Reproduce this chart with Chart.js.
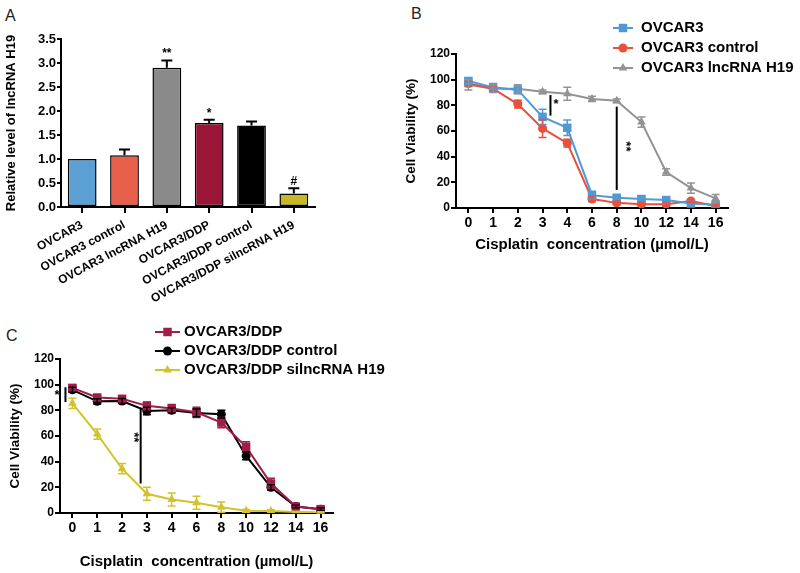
<!DOCTYPE html>
<html>
<head>
<meta charset="utf-8">
<script src="https://cdn.jsdelivr.net/npm/chart.js@4"></script>
<style>
  body { margin: 0; background: #fff; width: 800px; height: 573px; position: relative; overflow: hidden;
         font-family: "Liberation Sans", Arial, sans-serif; }
  canvas { position: absolute; }
  .tag { position: absolute; font-size: 16px; color: #222; }
</style>
</head>
<body>
<div class="tag" style="left:5px;top:7px">A</div>
<div class="tag" style="left:411px;top:5px">B</div>
<div class="tag" style="left:6px;top:327px">C</div>
<canvas id="chartA" style="left:0;top:0" width="330" height="315"></canvas>
<canvas id="chartC" style="left:0;top:290px" width="400" height="283"></canvas>
<canvas id="chartB" style="left:390px;top:0" width="410" height="260"></canvas>
<script>
// ---- panel A: relative lncRNA H19 level ----
const labelsA = ['OVCAR3', 'OVCAR3 control', 'OVCAR3 lncRNA H19', 'OVCAR3/DDP', 'OVCAR3/DDP control', 'OVCAR3/DDP silncRNA H19'];
const levelA = [1.0, 1.08, 2.9, 1.75, 1.7, 0.28];
const levelErrA = [0, 0.12, 0.15, 0.07, 0.08, 0.11];
const colorsA = ['#5b9fd3', '#e8604c', '#8a8a8a', '#9a1538', '#000000', '#c8b824'];
const yTicksA = [0, 0.5, 1, 1.5, 2, 2.5, 3, 3.5];
// significance marks above bars (category index, y value, text)
const starsA = [
  { at: 2, v: 3.2, text: '**' },
  { at: 3, v: 1.95, text: '*' },
  { at: 5, v: 0.53, text: '#' }
];

// ---- panel B / C: cisplatin dose response ----
const doses = ['0', '1', '2', '3', '4', '6', '8', '10', '12', '14', '16'];

const ovcar3 = [99, 94, 92, 71, 62.5, 10, 8, 7, 6.2, 3.5, 2.5];
const ovcar3Err = [2, 3, 3, 6, 6, 3, 2, 2, 1.5, 1, 1];
const ovcar3Ctrl = [97, 93, 81, 62, 50.5, 7, 4, 3, 3, 5.5, 1.5];
const ovcar3CtrlErr = [2, 2, 3, 7, 3, 2, 1.5, 1.5, 1.5, 1, 1];
const ovcar3H19 = [96, 93, 93, 90.5, 89, 85, 83.5, 67, 28, 15.5, 7.5];
const ovcar3H19Err = [4, 3, 3, 1.5, 5, 2, 1.5, 4, 2.5, 4, 3];

const ddp = [97.5, 90, 89, 83.5, 81.5, 78.5, 70.5, 51.5, 23, 5, 3];
const ddpErr = [2, 2, 2, 3, 3, 4, 4, 4, 4, 1, 1];
const ddpCtrl = [96, 87, 87.3, 79.5, 80, 78, 77, 44.5, 20, 5, 3];
const ddpCtrlErr = [2, 2, 2, 3, 2, 3, 3, 3, 2, 1, 1];
const ddpSi = [85.5, 61.5, 34.5, 15, 10.5, 8, 4.5, 1.8, 1.5, 0.8, 0.5];
const ddpSiErr = [4, 4, 4, 5, 5, 5, 4, 1, 1, 0.5, 0.5];

const yTicksBC = [0, 20, 40, 60, 80, 100, 120];

// significance lines: x in category units, from/to in % viability
const sigLinesB = [{ at: 3.32, from: 72, to: 88 }, { at: 6, from: 14, to: 79 }];
const sigMarksB = [{ at: 3.55, v: 81, text: '*' }, { at: 6.36, v: 48, text: '**', rot: 90 }];
const sigLinesC = [{ at: -0.28, from: 86.5, to: 98 }, { at: 2.75, from: 23, to: 82 }];
const sigMarksC = [{ at: -0.62, v: 91.5, text: '*' }, { at: 2.45, v: 59, text: '**', rot: 90 }];

Chart.defaults.font.family = '"Liberation Sans", Arial, sans-serif';
Chart.defaults.color = '#000';

const bold = size => ({ size: size, weight: 'bold' });

// error bars from the errors array on each dataset
const errorBars = {
  id: 'errorBars',
  afterDatasetsDraw(chart) {
    const ctx = chart.ctx;
    const yScale = chart.scales.y;
    chart.data.datasets.forEach((ds, di) => {
      if (!ds.errors) return;
      const meta = chart.getDatasetMeta(di);
      ctx.save();
      ctx.strokeStyle = ds.errorColor || ds.borderColor;
      ctx.lineWidth = ds.errorWidth || 1.5;
      meta.data.forEach((pt, i) => {
        const err = ds.errors[i];
        if (!err) return;
        const v = ds.data[i];
        const hi = yScale.getPixelForValue(v + err);
        const lo = ds.upOnly ? yScale.getPixelForValue(v) : yScale.getPixelForValue(Math.max(v - err, 0));
        const c = ds.capSize || 4;
        ctx.beginPath();
        ctx.moveTo(pt.x, lo); ctx.lineTo(pt.x, hi);
        ctx.moveTo(pt.x - c, hi); ctx.lineTo(pt.x + c, hi);
        if (!ds.upOnly) { ctx.moveTo(pt.x - c, lo); ctx.lineTo(pt.x + c, lo); }
        ctx.stroke();
      });
      ctx.restore();
    });
  }
};

function sigPlugin(lines, marks) {
  return {
    id: 'sig',
    afterDatasetsDraw(chart) {
      const { ctx, scales: { x, y } } = chart;
      ctx.save();
      ctx.strokeStyle = '#000';
      ctx.lineWidth = 2;
      lines.forEach(l => {
        const px = x.getPixelForValue(l.at);
        ctx.beginPath();
        ctx.moveTo(px, y.getPixelForValue(l.from));
        ctx.lineTo(px, y.getPixelForValue(l.to));
        ctx.stroke();
      });
      ctx.fillStyle = '#000';
      ctx.font = 'bold 13px "Liberation Sans", Arial';
      ctx.textAlign = 'center';
      ctx.textBaseline = 'middle';
      marks.forEach(m => {
        ctx.save();
        ctx.translate(x.getPixelForValue(m.at), y.getPixelForValue(m.v));
        if (m.rot) ctx.rotate(m.rot * Math.PI / 180);
        ctx.fillText(m.text, 0, 0);
        ctx.restore();
      });
      ctx.restore();
    }
  };
}

function drawMarker(ctx, style, x, y, r, color) {
  ctx.fillStyle = color;
  ctx.beginPath();
  if (style === 'rect') {
    const s = r * Math.SQRT1_2;
    ctx.rect(x - s, y - s, 2 * s, 2 * s);
  } else if (style === 'triangle') {
    let a = 0;
    ctx.moveTo(x + Math.sin(a) * r, y - Math.cos(a) * r);
    a += 2 * Math.PI / 3;
    ctx.lineTo(x + Math.sin(a) * r, y - Math.cos(a) * r);
    a += 2 * Math.PI / 3;
    ctx.lineTo(x + Math.sin(a) * r, y - Math.cos(a) * r);
    ctx.closePath();
  } else {
    ctx.arc(x, y, r, 0, Math.PI * 2);
  }
  ctx.fill();
}

// legend drawn by hand so it can sit next to the plot like the original
function legendPlugin(x0, x1, tx, rows) {
  return {
    id: 'sideLegend',
    afterDraw(chart) {
      const ctx = chart.ctx;
      chart.data.datasets.forEach((ds, i) => {
        const y = rows[i];
        ctx.save();
        ctx.strokeStyle = ds.borderColor;
        ctx.lineWidth = 2;
        ctx.beginPath(); ctx.moveTo(x0, y); ctx.lineTo(x1, y); ctx.stroke();
        drawMarker(ctx, ds.pointStyle, (x0 + x1) / 2, y, ds.pointRadius, ds.borderColor);
        ctx.fillStyle = '#000';
        ctx.font = 'bold 15px "Liberation Sans", Arial';
        ctx.textAlign = 'left';
        ctx.textBaseline = 'middle';
        ctx.fillText(ds.label, tx, y);
        ctx.restore();
      });
    }
  };
}

function axisGrid(len) {
  return { display: true, drawOnChartArea: false, offset: false, color: '#000', lineWidth: 2, tickLength: len };
}

// Panel A
new Chart(document.getElementById('chartA'), {
  type: 'bar',
  data: {
    labels: labelsA,
    datasets: [{
      data: levelA,
      errors: levelErrA,
      upOnly: true,
      capSize: 5.5,
      errorWidth: 2,
      errorColor: '#000',
      backgroundColor: colorsA,
      borderColor: '#000',
      borderWidth: 1.5,
      borderSkipped: false,
      categoryPercentage: 1,
      barPercentage: 0.68
    }]
  },
  options: {
    responsive: false,
    animation: false,
    layout: { padding: { top: 39, right: 15, left: 0, bottom: 0 } },
    plugins: { legend: { display: false }, tooltip: { enabled: false } },
    scales: {
      x: {
        offset: true,
        grid: axisGrid(6),
        border: { color: '#000', width: 2 },
        ticks: { font: bold(12), minRotation: 28, maxRotation: 28, autoSkip: false, padding: 5 },
        afterFit: s => { s.height = 108; }
      },
      y: {
        min: 0, max: 3.5,
        afterBuildTicks: s => { s.ticks = yTicksA.map(v => ({ value: v })); },
        grid: axisGrid(4),
        border: { color: '#000', width: 2 },
        ticks: { font: bold(13), padding: 1, callback: v => v.toFixed(1) },
        title: { display: true, text: 'Relative level of lncRNA H19', font: bold(13), padding: { top: 4, bottom: 0 } },
        afterFit: s => { s.width = 61; }
      }
    }
  },
  plugins: [errorBars, {
    id: 'starsA',
    afterDatasetsDraw(chart) {
      const { ctx, scales: { x, y } } = chart;
      ctx.save();
      ctx.fillStyle = '#000';
      ctx.font = 'bold 12px "Liberation Sans", Arial';
      ctx.textAlign = 'center';
      ctx.textBaseline = 'middle';
      starsA.forEach(s => ctx.fillText(s.text, x.getPixelForValue(s.at), y.getPixelForValue(s.v)));
      ctx.restore();
    }
  }]
});

function doseOptions(padTop, padRight, yWidth, xHeight, yTitlePad, xTitlePad) {
  return {
    responsive: false,
    animation: false,
    layout: { padding: { top: padTop, right: padRight, left: 0, bottom: 0 } },
    plugins: { legend: { display: false }, tooltip: { enabled: false } },
    scales: {
      x: {
        offset: true,
        grid: axisGrid(5),
        border: { color: '#000', width: 2 },
        ticks: { font: bold(14), autoSkip: false, maxRotation: 0, padding: 2 },
        title: { display: true, text: 'Cisplatin  concentration (\u00b5mol/L)', font: bold(15), padding: { top: 0, bottom: xTitlePad } },
        afterFit: s => { s.height = xHeight; }
      },
      y: {
        min: 0, max: 120,
        afterBuildTicks: s => { s.ticks = yTicksBC.map(v => ({ value: v })); },
        grid: axisGrid(5),
        border: { color: '#000', width: 2 },
        ticks: { font: bold(12), padding: 1 },
        title: { display: true, text: 'Cell Viability (%)', font: bold(13.5), padding: { top: yTitlePad, bottom: 0 } },
        afterFit: s => { s.width = yWidth; }
      }
    }
  };
}

function lineSet(label, data, errors, color, style, radius) {
  return {
    label: label, data: data, errors: errors,
    borderColor: color, backgroundColor: color,
    pointStyle: style, pointRadius: radius, pointBorderWidth: 0,
    borderWidth: 2, tension: 0, capSize: 4, errorWidth: 1.5
  };
}

// Panel B
new Chart(document.getElementById('chartB'), {
  type: 'line',
  data: {
    labels: doses,
    datasets: [
      lineSet('OVCAR3', ovcar3, ovcar3Err, '#4f9ad6', 'rect', 6),
      lineSet('OVCAR3 control', ovcar3Ctrl, ovcar3CtrlErr, '#e8503c', 'circle', 4.5),
      lineSet('OVCAR3 lncRNA H19', ovcar3H19, ovcar3H19Err, '#939393', 'triangle', 5)
    ]
  },
  options: doseOptions(54, 72, 66, 52, 13, 6),
  plugins: [errorBars, sigPlugin(sigLinesB, sigMarksB), legendPlugin(223, 243, 251, [28, 48, 68])]
});

// Panel C
new Chart(document.getElementById('chartC'), {
  type: 'line',
  data: {
    labels: doses,
    datasets: [
      lineSet('OVCAR3/DDP', ddp, ddpErr, '#a01c4a', 'rect', 6),
      lineSet('OVCAR3/DDP control', ddpCtrl, ddpCtrlErr, '#000000', 'circle', 4.5),
      lineSet('OVCAR3/DDP silncRNA H19', ddpSi, ddpSiErr, '#d2c22c', 'triangle', 5)
    ]
  },
  options: doseOptions(69, 67, 60, 60, 7, 2),
  plugins: [errorBars, sigPlugin(sigLinesC, sigMarksC), legendPlugin(155, 180, 184, [42, 61, 80])]
});
</script>
</body>
</html>
